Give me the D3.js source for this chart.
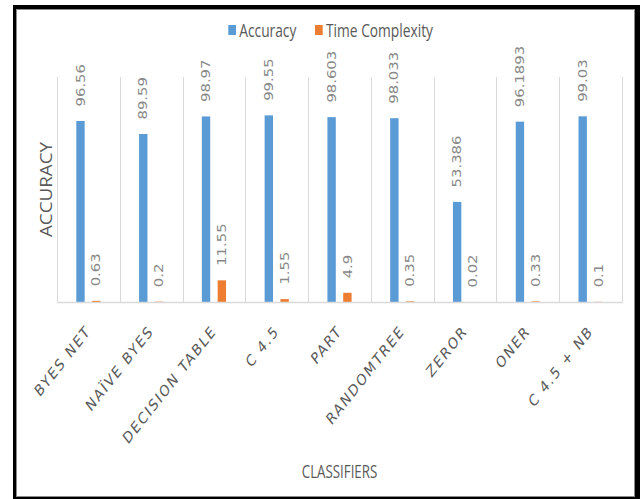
<!DOCTYPE html>
<html>
<head>
<meta charset="utf-8">
<script src="https://cdn.jsdelivr.net/npm/d3@7"></script>
<style>
  body { margin: 0; background: #fff; }
  svg { display: block; }
</style>
</head>
<body>
<svg id="chart" width="640" height="499"></svg>
<script>
const categories = ["BYES NET", "NAÏVE BYES", "DECISION TABLE", "C 4.5", "PART", "RANDOMTREE", "ZEROR", "ONER", "C 4.5 + NB"];
const accuracy = [96.56, 89.59, 98.97, 99.55, 98.603, 98.033, 53.386, 96.1893, 99.03];
const timeComplexity = [0.63, 0.2, 11.55, 1.55, 4.9, 0.35, 0.02, 0.33, 0.1];
const seriesNames = ["Accuracy", "Time Complexity"];
const colors = ["#5b9bd5", "#ed7d31"];

const svg = d3.select("#chart");

// frame
svg.append("rect").attr("x", 13).attr("y", 5).attr("width", 627).attr("height", 494).attr("fill", "#000");
svg.append("rect").attr("x", 16).attr("y", 9).attr("width", 619).attr("height", 488).attr("fill", "#fff");
svg.append("rect").attr("x", 16.5).attr("y", 9.5).attr("width", 618).attr("height", 487)
  .attr("fill", "none").attr("stroke", "#8c8c8c").attr("stroke-width", 1);

const plotL = 57, plotR = 622, plotT = 77, plotB = 302;

const x = d3.scaleBand().domain(categories).range([plotL, plotR]).padding(0);
const xs = d3.scaleBand().domain(seriesNames).range([0, x.bandwidth()])
  .paddingInner(0.47).paddingOuter(1.22);
const y = d3.scaleLinear().domain([0, 120]).range([plotB, plotT]);

// vertical gridlines between categories
const edges = categories.map(d => x(d)).concat([plotR]);
svg.append("g").selectAll("line").data(edges).join("line")
  .attr("x1", d => Math.round(d) + 0.5).attr("x2", d => Math.round(d) + 0.5)
  .attr("y1", plotT).attr("y2", plotB)
  .attr("stroke", "#d9d9d9").attr("stroke-width", 1);

const rows = categories.map((c, i) => ({ c, vals: [accuracy[i], timeComplexity[i]] }));

const groups = svg.append("g").selectAll("g").data(rows).join("g")
  .attr("transform", d => `translate(${x(d.c)},0)`);

groups.selectAll("rect").data(d => d.vals.map((v, k) => ({ v, k }))).join("rect")
  .attr("x", d => xs(seriesNames[d.k]))
  .attr("width", xs.bandwidth())
  .attr("y", d => y(d.v))
  .attr("height", d => plotB - y(d.v))
  .attr("fill", d => colors[d.k]);

// baseline over the bars
svg.append("line").attr("x1", plotL).attr("x2", plotR + 1)
  .attr("y1", plotB + 0.5).attr("y2", plotB + 0.5)
  .attr("stroke", "#d9d9d9").attr("stroke-width", 1.5);

// value labels, rotated
groups.selectAll("text").data(d => d.vals.map((v, k) => ({ v, k }))).join("text")
  .attr("transform", d => `translate(${xs(seriesNames[d.k]) + xs.bandwidth() / 2},${y(d.v) - 14.5}) rotate(-90)`)
  .attr("dy", "0.36em")
  .attr("font-family", "DejaVu Sans")
  .attr("font-size", 11.4)
  .attr("fill", "#888888")
  .text(d => d.v)
  .each(function () {
    const len = this.getComputedTextLength();
    d3.select(this).attr("textLength", len * 1.3).attr("lengthAdjust", "spacingAndGlyphs");
  });

// category labels
svg.append("g").selectAll("text").data(categories).join("text")
  .attr("transform", d => `translate(${x(d) + x.bandwidth() / 2 + 3},${plotB + 30}) scale(1,1.27) rotate(-45)`)
  .attr("text-anchor", "end")
  .attr("font-family", "DejaVu Sans")
  .attr("font-size", 12.5)
  .attr("letter-spacing", 1.6)
  .attr("fill", "#595959")
  .text(d => d);

// axis titles
svg.append("text")
  .attr("transform", `translate(51.5,${(plotT + plotB) / 2}) rotate(-90)`)
  .attr("text-anchor", "middle")
  .attr("font-family", "Open Sans")
  .attr("font-size", 16)
  .attr("fill", "#595959")
  .attr("textLength", 95).attr("lengthAdjust", "spacingAndGlyphs")
  .text("ACCURACY");

svg.append("text")
  .attr("x", (plotL + plotR) / 2).attr("y", 477.5)
  .attr("text-anchor", "middle")
  .attr("font-family", "Open Sans")
  .attr("font-size", 17.3)
  .attr("fill", "#595959")
  .attr("textLength", 75.5).attr("lengthAdjust", "spacingAndGlyphs")
  .text("CLASSIFIERS");

// legend
const legendX = [228.3, 315];
const legendW = [57, 107];
const legend = svg.append("g").selectAll("g").data(seriesNames).join("g");
legend.append("rect")
  .attr("x", (d, i) => legendX[i]).attr("y", 25)
  .attr("width", 7.7).attr("height", 10)
  .attr("fill", (d, i) => colors[i]);
legend.append("text")
  .attr("x", (d, i) => legendX[i] + 11).attr("y", 37)
  .attr("font-family", "Open Sans")
  .attr("font-size", 18)
  .attr("fill", "#595959")
  .attr("textLength", (d, i) => legendW[i]).attr("lengthAdjust", "spacingAndGlyphs")
  .text(d => d);
</script>
</body>
</html>
